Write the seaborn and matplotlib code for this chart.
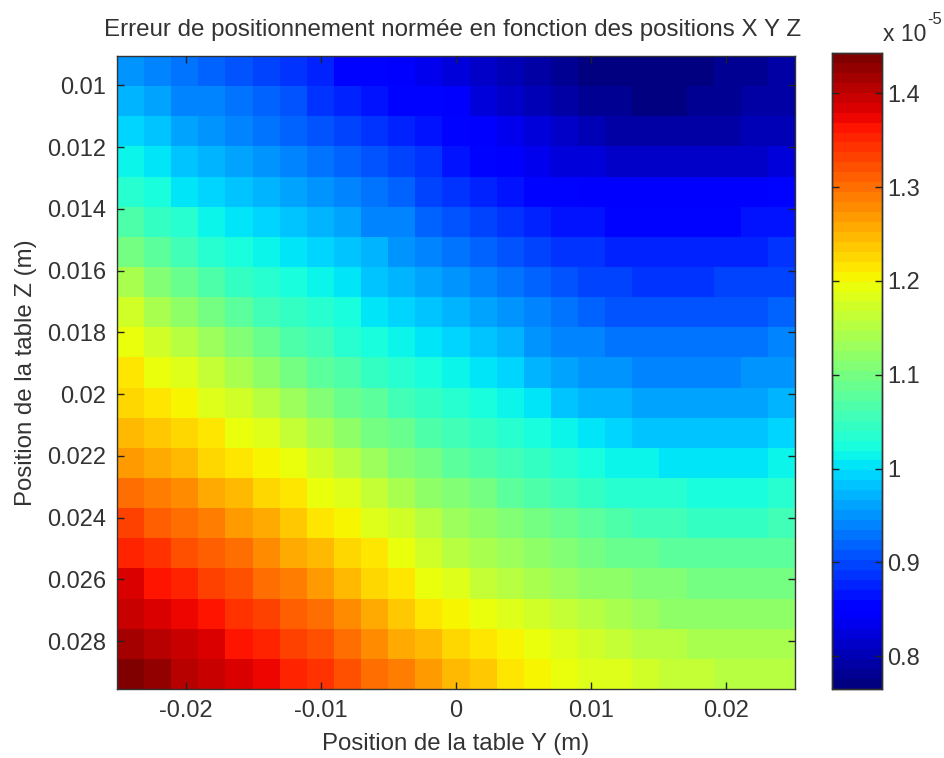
import numpy as np
import pandas as pd
import matplotlib
matplotlib.use('Agg')
import matplotlib.pyplot as plt
import seaborn as sns

# error values, in units of 1e-7 (rows: Z, columns: Y)
row_01 = [95,94,93,92,91,90,89,87.5,86,85,84,83,82,81,80,79,78,77.5,77,77,77,77.5,78,78,79]
row_02 = [97,96,94.5,93.5,92.5,91.5,90.5,89,88,87,86,85,84,82.5,81.5,80.5,79.5,78.5,78,77.5,77.5,78,78.5,79,79.5]
row_03 = [99,98,96,95,94,93,92,91,90,88.5,87.5,86.5,85.5,84,83,82,81,80,79.5,79,79,79,79.5,80,80.5]
row_04 = [101.5,100,98.5,97,96,95,94,93,92,90.5,89.5,88.5,87,86,84.5,83.5,82.5,82,81.5,81,81,81,81,81.5,82]
row_05 = [104,102.5,100.5,99.5,98,97,96,95,94,92.5,91.5,90,89,87.5,86.5,85.5,85,84.5,84,84,84,84,84,84.5,85]
row_06 = [107,105,103,101.5,100,99,98,97,96,94.5,93.5,92,91,90,88.5,87.5,87,86.5,86,86,86,86,86,86.5,87]
row_07 = [110,108,105.5,104,102.5,101,100,99,98,97,95.5,94,93,92,91,90,89,88.5,88,87.5,87.5,87.5,88,88,88.5]
row_08 = [114,111,108.5,107,105,103.5,102,101,100,98.5,97.5,96,95,94,93,92,91,90,89.5,89,89,89,89.5,89.5,90]
row_09 = [117,114,112,110,108,106,104.5,103,102,100.5,99.5,98.5,97,96,95,94,93,92,91,90.5,90.5,90.5,91,91,91.5]
row_10 = [119,117,115,113,111,109,107,105.5,104,102.5,101.5,100.5,99.5,98.5,97,95.5,94.5,93.5,93,92.5,92.5,92.5,92.5,93,93.5]
row_11 = [121,119.5,118,116,114,112,110,108,106.5,105,103.5,102.5,101.5,100.5,99,97.5,96.5,95.5,95,94.5,94,94,94.5,95,95.5]
row_12 = [123,122,120,118.5,117,115,113,111,109,107.5,106,105,104,102.5,101,100,98.5,97.5,97,96.5,96,96,96.5,96.5,97]
row_13 = [125,124,122.5,121,119.5,118,116,114,112,110,108.5,107,106,104.5,103.5,102,101,100,99,98.5,98,98,98,98.5,99]
row_14 = [127,126,125,123,122,120.5,119,117,115,113,111,109.5,108,107,106,104.5,103.5,102.5,101.5,101,100.5,100,100,100.5,101]
row_15 = [130,128.5,127.5,126,124.5,123,121,119.5,118,116,114,112,110.5,109.5,108,107,106,105,104,103.5,103,102.5,102.5,102.5,103]
row_16 = [133,131.5,130,128.5,127,125.5,124,122,120,118.5,117,115,113,111.5,110.5,109.5,108.5,107.5,106.5,106,105.5,105,105,105,105.5]
row_17 = [135.5,134,132.5,131,129.5,128,126,124.5,123,121,119,117.5,115.5,114,113,112,111,110,109,108.5,108,107.5,107.5,107.5,107.5]
row_18 = [138,136.5,135,133.5,132,130.5,129,127,125,123,121.5,119.5,118,116.5,115.5,114,113,112,111.5,111,110.5,110,110,110,110]
row_19 = [140,139,137.5,136,134.5,133,131,129.5,127.5,126,124,122,120.5,119,118,117,116,115,114,113,112.5,112,112,112,112]
row_20 = [141.5,140.5,139.5,138,136.5,135,133.5,132,130,128,126,124.5,123,121.5,120,119,118,117,116,115.5,115,114,114,114,114]
row_21 = [143.5,142.5,141,140,138.5,137,135.5,134,132,130.5,128.5,126.5,125,123.5,122,120.5,119.5,118.5,118,117,116.5,116,115.5,115.5,115]

rows = [row_01, row_02, row_03, row_04, row_05, row_06, row_07, row_08, row_09, row_10, row_11,
        row_12, row_13, row_14, row_15, row_16, row_17, row_18, row_19, row_20, row_21]

y_ticks = [-0.02, -0.01, 0, 0.01, 0.02]
y_tick_labels = ['-0.02', '-0.01', '0', '0.01', '0.02']
z_ticks = [0.01, 0.012, 0.014, 0.016, 0.018, 0.02, 0.022, 0.024, 0.026, 0.028]
z_tick_labels = ['0.01', '0.012', '0.014', '0.016', '0.018', '0.02', '0.022', '0.024', '0.026', '0.028']
bar_ticks = [0.8, 0.9, 1.0, 1.1, 1.2, 1.3, 1.4]
bar_tick_labels = ['0.8', '0.9', '1', '1.1', '1.2', '1.3', '1.4']

y_range = (-0.0251, 0.0251)
z_range = (0.00905, 0.02955)
err_min, err_max = 0.765, 1.443

sns.set_theme(style='white')
plt.rcParams['font.family'] = ['Liberation Sans', 'DejaVu Sans']
text_color = '#333333'

W, H = 944, 758
fig = plt.figure(figsize=(W / 100, H / 100), dpi=100)
ax = fig.add_axes([117 / W, 1 - 689 / H, 678 / W, 633 / H])
cax = fig.add_axes([832 / W, 1 - 689 / H, 50 / W, 636 / H])

data = pd.DataFrame(rows) / 100
sns.heatmap(data, ax=ax, cbar_ax=cax, cmap=plt.get_cmap('jet', 64), vmin=err_min, vmax=err_max)

n_rows, n_cols = data.shape
ax.set_xticks([(v - y_range[0]) / (y_range[1] - y_range[0]) * n_cols for v in y_ticks])
ax.set_xticklabels(y_tick_labels, rotation=0)
ax.set_yticks([(v - z_range[0]) / (z_range[1] - z_range[0]) * n_rows for v in z_ticks])
ax.set_yticklabels(z_tick_labels, rotation=0, va='center_baseline')
ax.set_axisbelow(False)
ax.tick_params(axis='both', direction='in', length=5, width=1, top=True, right=True, bottom=True, left=True,
               labelsize=17, labelcolor=text_color, color='#222222', pad=8)
ax.set_xlabel('Position de la table Y (m)', fontsize=17.3, color=text_color, labelpad=8)
ax.set_ylabel('Position de la table Z (m)', fontsize=17.3, color=text_color, labelpad=7)
fig.text(453 / W, 1 - 30 / H, 'Erreur de positionnement normée en fonction des positions X Y Z',
         fontsize=17.4, color=text_color, ha='center', va='center')

cax.set_axisbelow(False)
cax.set_yticks(bar_ticks)
cax.set_yticklabels(bar_tick_labels)
cax.tick_params(axis='y', direction='in', length=5, width=1, left=True, right=True,
                labelsize=17, labelcolor=text_color, color='#222222', pad=4)

for a in [ax, cax]:
    for s in a.spines.values():
        s.set_visible(True)
        s.set_color('#333333')
        s.set_linewidth(1)

fig.text(883 / W, 1 - 41 / H, 'x 10', fontsize=16.5, color=text_color, ha='left', va='baseline')
fig.text(927 / W, 1 - 24 / H, '-5', fontsize=12, color=text_color, ha='left', va='baseline')

fig.savefig('out.png', dpi=100)
